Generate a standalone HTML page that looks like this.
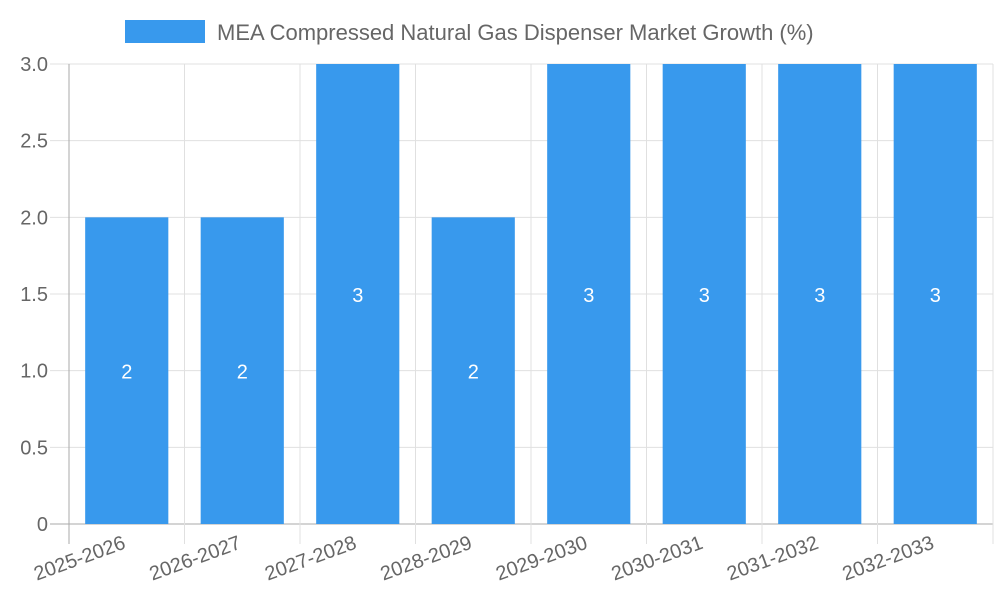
<!DOCTYPE html>
<html><head><meta charset="utf-8"><style>
body{margin:0;background:#fff;}
svg text{font-family:"Liberation Sans",sans-serif;fill:#666;}
</style></head><body>
<svg id="chart" width="1000" height="600">
<g>
<rect x="125" y="20" width="80" height="23" fill="#3899ed"></rect>
<text x="217" y="40" font-size="22">MEA Compressed Natural Gas Dispenser Market Growth (%)</text>
</g>
<g id="grid"></g><g id="bars"></g><g id="axes"></g>
</svg>
<script>
const categories=["2025-2026","2026-2027","2027-2028","2028-2029","2029-2030","2030-2031","2031-2032","2032-2033"];
const values=[2,2,3,2,3,3,3,3];
const yTicks=[0,0.5,1,1.5,2,2.5,3];
const yTickLabels=["0","0.5","1.0","1.5","2.0","2.5","3.0"];
const NS="http://www.w3.org/2000/svg";
const L=69,R=993,T=64,B=524,yMax=3;
const bw=(R-L)/categories.length;
const y=v=>B-(v/yMax)*(B-T);
const x=i=>L+i*bw;
function mk(tag,attrs,parent){const e=document.createElementNS(NS,tag);for(const k in attrs)e.setAttribute(k,attrs[k]);document.getElementById(parent).appendChild(e);return e;}
yTicks.forEach((t,i)=>{
 const g=mk('line',{x1:50,x2:R,y1:y(t),y2:y(t),stroke:i==0?'#aaa':'#e0e0e0','stroke-width':1},'grid');
 
 
 const tx=mk('text',{x:48,y:y(t)+7,'text-anchor':'end','font-size':20},'axes');
 tx.textContent=yTickLabels[i];
 
 
});
for(let i=0;i<=categories.length;i++){
 const g=mk('line',{x1:x(i),x2:x(i),y1:T,y2:544,stroke:i==0?'#aaa':'#e0e0e0','stroke-width':1},'grid');
 
 
}
categories.forEach((c,i)=>{
 const cx=x(i)+bw/2,w=bw*0.72;
 const r=mk('rect',{x:cx-w/2,y:y(values[i]),width:w,height:B-y(values[i]),fill:'#3899ed'},'bars');
 
 
 const v=mk('text',{x:cx,y:(y(values[i])+B)/2+8,'text-anchor':'middle','font-size':20,style:'fill:#fff'},'bars');
 v.textContent=values[i];
 
 
 const t=mk('text',{x:cx,y:548,'text-anchor':'end','font-size':20,transform:`rotate(-20 ${cx} 548)`},'axes');
 t.textContent=c;
 
 
});
</script>
</body></html>
